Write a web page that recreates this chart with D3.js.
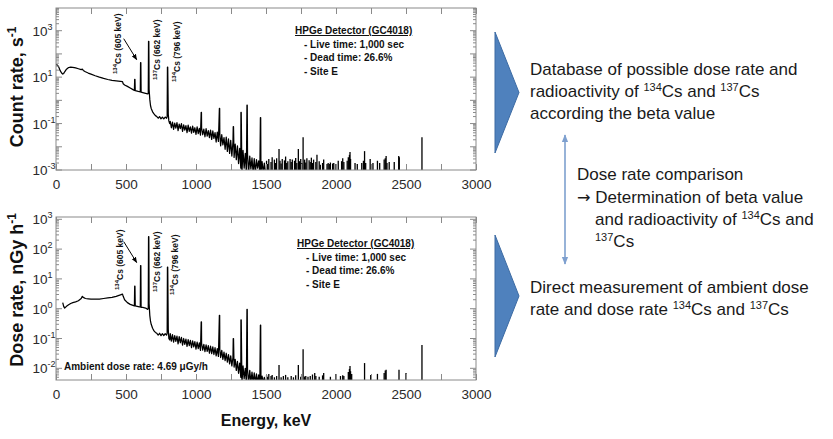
<!DOCTYPE html>
<html><head><meta charset="utf-8">
<script src="https://cdn.jsdelivr.net/npm/d3@7"></script>
<style>
body{margin:0;background:#fff}
svg{display:block}
text{font-family:"Liberation Sans",Arial,sans-serif}
</style>
</head><body>
<svg id="c" width="833" height="439"></svg>
<script>
// ---------------- DATA ----------------
const energy = [
  0,10,20,30,40, 48,55,62,75,90, 105,120,140,160,180, 188,195,210,230,250,
  280,310,340,370,400, 430,460,475,480,490, 510,530,550,560,562, 564,566,580,595,602,
  604,606,608,620,640, 655,659,661,663,665, 670,675,680,690,700, 710,720,730,740,750,
  760,770,780,790,794, 796,798,802,806,812,
  816,824,832,840,848,856,864,872,880,888,
  896,904,912,920,928,936,944,952,960,968,
  976,984,992,1000,1008,1016,1024,1032,1037,1039,
  1040,1048,1056,1064,1072,1080,1088,1096,1104,1112,
  1120,1128,1136,1144,1152,1160,1167,1169,1170,1176,
  1184,1192,1200,1208,1216,1224,1232,1240,1248,1256,
  1264,1266,1268,1272,1280,1288,1296,1304,1312,1320,
  1321,1323,1328,1336,1344,1352,1360,1364,1366,1368,
  1376,1384,1392,1400,1408,1416,1424,1432,1440,1448,
  1456,1460,1462,1464,1472,1480,1488,1496
];
const countRate = [
  35,33,27,19,15, 13.5,14.5,17,22,26, 27,26.5,25,23,21, 22,19.5,17,15,13.5,
  11.5,10,8.8,7.9,7.2, 6.9,6.6,6.4,5.2,4.6, 4.0,3.4,2.9,2.7,8, 8,2.6,2.5,2.35,2.3,
  42,42,2.25,2.15,2.0, 1.9,1.95,350,350,3, 1.1,0.6,0.45,0.32,0.26, 0.22,0.2,0.17,0.2,0.16,
  0.19,0.16,0.19,0.17,0.2, 27,27,0.25,0.13,0.1,
  0.125,0.066,0.115,0.056,0.105,0.064,0.11,0.05,0.095,0.06,
  0.1,0.046,0.088,0.052,0.082,0.041,0.086,0.046,0.072,0.039,
  0.078,0.042,0.066,0.034,0.072,0.037,0.062,0.032,0.3,0.3,
  0.064,0.033,0.057,0.027,0.06,0.029,0.05,0.025,0.052,0.021,
  0.048,0.023,0.041,0.016,0.043,0.017,0.45,0.45,0.037,0.011,
  0.033,0.012,0.025,0.0078,0.026,0.0063,0.022,0.0052,0.019,0.004,
  0.016,0.073,0.073,0.0035,0.013,0.0028,0.011,0.0019,0.0085,0.0012,
  0.3,0.3,0,0.007,0.0012,0.0052,0,0.62,0.62,0.0047,
  0,0.004,0.0011,0.0033,0,0.0031,0,0.0028,0.0012,0.0025,
  0,0.18,0.18,0,0.0023,0,0.002,0
];
const doseRate = [
  null,null,null,null,null, 1.6,1.2,1.05,1.2,1.35, 1.5,1.6,1.7,1.85,2.2, 2.6,2.4,2.2,2.15,2.1,
  2.1,2.1,2.2,2.3,2.4, 2.6,2.9,3.1,2.6,2.0, 1.6,1.4,1.3,1.25,5.7, 5.7,1.25,1.2,1.15,1.15,
  28,28,1.1,1.1,1.05, 0.95,1.0,260,260,1.5, 0.6,0.38,0.3,0.22,0.18, 0.16,0.15,0.13,0.15,0.125,
  0.145,0.125,0.145,0.13,0.15, 25,25,0.2,0.1,0.09,
  0.145,0.082,0.135,0.076,0.125,0.08,0.12,0.066,0.115,0.072,
  0.11,0.06,0.1,0.064,0.096,0.054,0.092,0.058,0.086,0.049,
  0.084,0.052,0.078,0.044,0.076,0.046,0.071,0.04,0.36,0.36,
  0.068,0.041,0.064,0.036,0.061,0.037,0.058,0.032,0.055,0.031,
  0.052,0.029,0.049,0.026,0.046,0.025,0.6,0.6,0.043,0.023,
  0.04,0.02,0.035,0.018,0.032,0.016,0.029,0.014,0.026,0.012,
  0.023,0.1,0.1,0.011,0.02,0.0085,0.017,0.0068,0.015,0.005,
  0.42,0.42,0,0.012,0.0045,0.01,0,0.95,0.95,0.009,
  0,0.0085,0,0.0075,0,0.007,0,0.0065,0,0.006,
  0,0.28,0.28,0,0.0055,0,0.005,0
];
// high-energy tail (isolated counts above 1500 keV)
const countTailEnergy = [
  1504,1512,1520,1536,1544,1560,1568,1576,1593,1600,1608,1616,1632,1640,1648,1656,1672,1680,1688,
  1704,1712,1720,1731,1740,1748,1756,1765,1776,1784,1792,1808,1816,1824,1832,1840,1856,1864,
  1880,1888,1904,1912,1936,1944,1952,1960,1976,1984,2000,2016,2040,2048,2056,2080,2088,2096,
  2100,2104,2136,2152,2184,2196,2204,2212,2244,2264,2296,2312,2344,2352,2358,2364,2380,2416,
  2448,2452,2614
];
const countTail = [
  0.0025,0.0018,0.003,0.0022,0.0035,0.0028,0.002,0.0032,0.008,0.0025,0.0019,0.003,0.0026,0.0038,0.002,0.0024,0.003,0.0022,0.0028,
  0.0025,0.0033,0.002,0.008,0.0024,0.003,0.002,0.026,0.0028,0.0021,0.0032,0.0026,0.0022,0.0034,0.002,0.0028,0.0022,0.0045,
  0.0024,0.0017,0.002,0.0028,0.0018,0.002,0.0018,0.0021,0.0019,0.002,0.0018,0.0025,0.0024,0.0032,0.0022,0.0025,0.0035,0.0045,
  0.006,0.003,0.002,0.0018,0.002,0.0025,0.0065,0.002,0.003,0.002,0.0025,0.002,0.0028,0.0032,0.004,0.002,0.0022,0.0022,
  0.004,0.0035,0.026
];
const doseTailEnergy = [
  1504,1512,1520,1536,1544,1560,1576,1593,1608,1624,1640,1656,1680,1696,1712,1731,1748,1765,
  1776,1784,1800,1816,1832,1848,1856,1880,1904,1912,1960,2000,2032,2048,2056,2088,2096,2100,
  2104,2112,2204,2248,2296,2344,2352,2358,2450,2500,2614
];
const doseTail = [
  0.006,0.0052,0.0065,0.0055,0.006,0.005,0.0055,0.013,0.005,0.0055,0.006,0.005,0.0055,0.005,0.0058,0.013,0.0052,0.044,
  0.0053,0.0055,0.0052,0.0055,0.0062,0.007,0.0055,0.0052,0.0058,0.007,0.0052,0.0065,0.0055,0.0058,0.0055,0.0075,0.0095,0.012,
  0.008,0.0065,0.015,0.006,0.0065,0.007,0.0085,0.009,0.009,0.007,0.06
];
const xTickMarks = [0,250,500,750,1000,1250,1500,1750,2000,2250,2500,2750,3000];
const xTickLabels = [0,500,1000,1500,2000,2500,3000];
const countLabelExps = [-3,-1,1,3];
const doseLabelExps = [-2,-1,0,1,2,3];
const peakIsotope = ["134","137","134"];
const peakName = ["Cs (605 keV)","Cs (662 keV)","Cs (796 keV)"];
const peakEnergy = [605,662,796];
const detectorLines = ["HPGe Detector (GC4018)","- Live time: 1,000 sec","- Dead time: 26.6%","- Site E"];
const ambientText = "Ambient dose rate: 4.69 \u03bcGy/h";

// ---------------- DRAW ----------------
const svg = d3.select("#c");
const defs = svg.append("defs");
defs.append("marker").attr("id","ah").attr("viewBox","0 0 10 10").attr("refX",9).attr("refY",5)
  .attr("markerWidth",6).attr("markerHeight",6).attr("orient","auto-start-reverse")
  .append("path").attr("d","M0,1 L10,5 L0,9 Z").attr("fill","#000");
defs.append("marker").attr("id","bh").attr("viewBox","0 0 10 10").attr("refX",9).attr("refY",5)
  .attr("markerWidth",5).attr("markerHeight",5).attr("orient","auto-start-reverse")
  .append("path").attr("d","M0,1 L10,5 L0,9 Z").attr("fill","#7ea0cf");

const X0 = 56, X1 = 476;
const x = d3.scaleLinear().domain([0,3000]).range([X0,X1]);

function rich(parent, px, py, parts, size, supSize, shift, attrs){
  const t = parent.append("text").attr("x",px).attr("y",py).attr("font-size",size);
  Object.entries(attrs||{}).forEach(([k,v])=>t.attr(k,v));
  let up = false;
  parts.forEach(p=>{
    const s = typeof p === "string" ? p : p[0];
    const kind = typeof p === "string" ? 0 : p[1];
    const ts = t.append("tspan").text(s);
    if (kind === 1){ ts.attr("font-size",supSize); if(!up){ ts.attr("dy",-shift); up = true; } }
    else {
      if (up){ ts.attr("dy",shift); up = false; }
      if (kind === 2) ts.attr("font-family","DejaVu Sans").attr("font-size",size*0.95);
    }
  });
  return t;
}

function panel(cfg){
  const y = d3.scaleLog().domain(cfg.yDomain).range([cfg.bottom, cfg.top]);
  const g = svg.append("g");
  const cid = cfg.id + "clip";
  defs.append("clipPath").attr("id",cid).append("rect")
    .attr("x",X0).attr("y",cfg.top).attr("width",X1-X0).attr("height",cfg.bottom-cfg.top);
  const yv = v => v > 0 ? y(v) : cfg.bottom + 3;

  // spectrum line
  const pts = energy.map((e,i)=>[e, cfg.values[i]]).filter(d=>d[1]!==null && d[1]!==undefined);
  g.append("path").attr("clip-path",`url(#${cid})`)
    .attr("d", d3.line().x(d=>x(d[0])).y(d=>yv(d[1]))(pts))
    .attr("fill","none").attr("stroke","#000").attr("stroke-width",1.25).attr("stroke-linejoin","round");
  // tail counts
  g.append("g").attr("clip-path",`url(#${cid})`).selectAll("line")
    .data(cfg.tailE.map((e,i)=>[e,cfg.tailV[i]])).join("line")
    .attr("x1",d=>x(d[0])).attr("x2",d=>x(d[0]))
    .attr("y1",cfg.bottom).attr("y2",d=>y(d[1]))
    .attr("stroke","#000").attr("stroke-width",1.3);

  // frame
  g.append("rect").attr("x",X0).attr("y",cfg.top).attr("width",X1-X0).attr("height",cfg.bottom-cfg.top)
    .attr("fill","none").attr("stroke","#8a8a8a").attr("stroke-width",1);

  // x axes (inward ticks)
  const ax = g.append("g").attr("transform",`translate(0,${cfg.bottom})`)
    .call(d3.axisBottom(x).tickValues(xTickMarks).tickSize(-6).tickPadding(9)
      .tickFormat(d=> xTickLabels.includes(d) ? d : ""));
  ax.select(".domain").remove();
  ax.selectAll("line").attr("stroke","#8a8a8a");
  ax.selectAll("text").attr("font-size",13.5).attr("fill","#2a2a2a")
    .attr("font-family",'"Liberation Sans",Arial,sans-serif');
  const axt = g.append("g").attr("transform",`translate(0,${cfg.top})`)
    .call(d3.axisTop(x).tickValues(xTickMarks).tickSize(-6).tickFormat(""));
  axt.select(".domain").remove();
  axt.selectAll("line").attr("stroke","#8a8a8a");

  // y ticks (log major/minor, both sides)
  const [d0,d1] = cfg.yDomain;
  const yt = [];
  for (let e = Math.floor(Math.log10(d0)); e <= Math.ceil(Math.log10(d1)); e++)
    for (let k = 1; k <= 9; k++){ const v = k*Math.pow(10,e); if (v>=d0 && v<=d1) yt.push([v,k===1]); }
  g.selectAll(null).data(yt).join("line")
    .attr("x1",X0).attr("x2",d=>X0+(d[1]?6:3)).attr("y1",d=>y(d[0])).attr("y2",d=>y(d[0]))
    .attr("stroke","#8a8a8a");
  g.selectAll(null).data(yt).join("line")
    .attr("x1",X1).attr("x2",d=>X1-(d[1]?6:3)).attr("y1",d=>y(d[0])).attr("y2",d=>y(d[0]))
    .attr("stroke","#8a8a8a");
  cfg.labelExps.forEach(e=>{
    rich(g, 32.5, y(Math.pow(10,e))+5, ["10",[String(e),1]], 13.5, 9, 6, {fill:"#2a2a2a"});
  });

  // axis title
  const tt = g.append("g").attr("transform",`translate(23,${cfg.titleY}) rotate(-90)`);
  rich(tt, 0, 0, cfg.title, 18, 12, 7, {"text-anchor":"middle","font-weight":"bold","fill":"#111"});

  // peak labels
  peakEnergy.forEach((E,i)=>{
    const lg = g.append("g").attr("transform",`translate(${x(E)+cfg.labelDx[i]},${cfg.labelY[i]}) rotate(-90)`);
    rich(lg, 0, 0, [[peakIsotope[i],1], peakName[i]], 8.5, 6, 3.5, {"font-weight":"bold","fill":"#111"});
  });
  // arrow to 605 keV peak
  const pk = cfg.values[energy.indexOf(604)];
  g.append("line").attr("x1",x(605)-17).attr("y1",y(pk)-24).attr("x2",x(605)-4).attr("y2",y(pk)-3)
    .attr("stroke","#000").attr("stroke-width",1).attr("marker-end","url(#ah)");

  // detector info
  detectorLines.forEach((s,i)=>{
    const t = g.append("text").attr("x", i===0 ? cfg.infoX : cfg.infoX+9).attr("y", cfg.infoY + i*13.6)
      .attr("font-size",10).attr("font-weight","bold").attr("fill","#111").text(s);
    if (i===0) t.attr("text-decoration","underline");
  });
  return {g,y};
}

panel({id:"top", top:8, bottom:170, yDomain:[0.001, 9500], values:countRate,
  tailE:countTailEnergy, tailV:countTail, labelExps:countLabelExps,
  title:["Count rate, s",["-1",1]], titleY:87,
  labelDx:[-20,11.5,12.5], labelY:[74,80,82], infoX:295, infoY:34});
const bot = panel({id:"bot", top:217, bottom:380, yDomain:[0.00405, 1195], values:doseRate,
  tailE:doseTailEnergy, tailV:doseTail, labelExps:doseLabelExps,
  title:["Dose rate, nGy h",["-1",1]], titleY:290,
  labelDx:[-18,11.5,10.5], labelY:[290,292,295], infoX:297, infoY:247});
bot.g.append("text").attr("x",64).attr("y",369.5).attr("font-size",10).attr("font-weight","bold")
  .attr("fill","#111").text(ambientText);

svg.append("text").attr("x",266).attr("y",426).attr("text-anchor","middle").attr("font-size",16)
  .attr("font-weight","bold").attr("fill","#111").text("Energy, keV");

// ---------------- RIGHT SIDE ----------------
const r = svg.append("g");
[[32,153],[235,357]].forEach(([t,b])=>{
  r.append("polygon").attr("points",`495,${t} 519,${(t+b)/2} 495,${b}`)
    .attr("fill","#4f81bd").attr("stroke","#3d6ba3").attr("stroke-width",1);
});
r.append("line").attr("x1",565).attr("y1",135).attr("x2",565).attr("y2",264)
  .attr("stroke","#7ea0cf").attr("stroke-width",1.6)
  .attr("marker-start","url(#bh)").attr("marker-end","url(#bh)");

const rs = 17, rsup = 11, rsh = 6;
const blocks = [
  [530, 75, ["Database of possible dose rate and"]],
  [530, 97, ["radioactivity of ",["134",1],"Cs and ",["137",1],"Cs"]],
  [530, 118.5, ["according the beta value"]],
  [577, 180, ["Dose rate comparison"]],
  [577, 203, [["\u2192",2]," Determination of beta value"]],
  [595, 225, ["and radioactivity of ",["134",1],"Cs and"]],
  [595, 247, [["137",1],"Cs"]],
  [530, 293, ["Direct measurement of ambient dose"]],
  [530, 315, ["rate and dose rate ",["134",1],"Cs and ",["137",1],"Cs"]]
];
blocks.forEach(([bx,by,parts])=>rich(r,bx,by,parts,rs,rsup,rsh,{fill:"#1a1a1a"}));
</script>
</body></html>
